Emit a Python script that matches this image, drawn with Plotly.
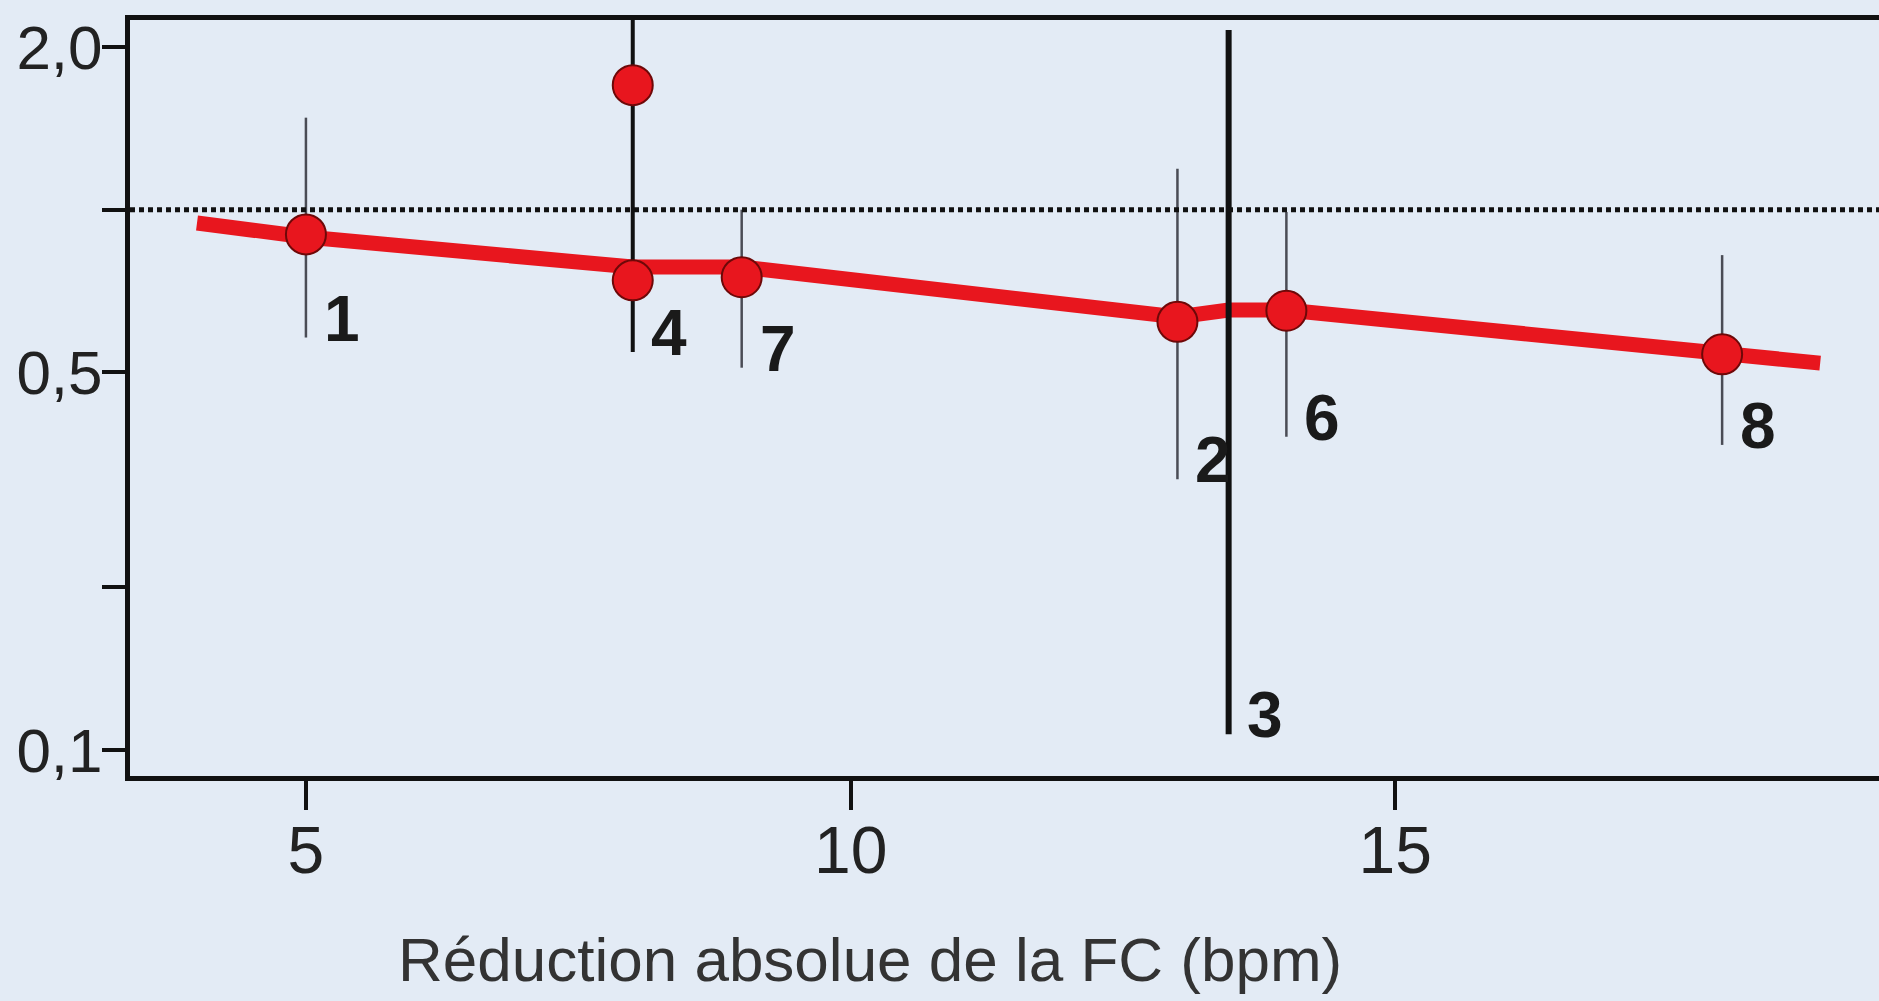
import math
import plotly.graph_objects as go

# ---------------- data ----------------
trial_ids = ["1", "2", "3", "4", "6", "7", "8"]
reduction_fc = [5.0, 13.0, 13.47, 8.0, 14.0, 9.0, 18.0]
rr = [0.90, 0.62, None, 0.74, 0.65, 0.75, 0.54]
ci_low = [0.58, 0.317, 0.107, 0.545, 0.38, 0.51, 0.367]
ci_high = [1.48, 1.19, 2.15, 2.4, 0.99, 1.0, 0.824]

# second estimate drawn on the trial-4 bar
extra_x = [8.0]
extra_rr = [1.70]

# red regression line
trend_x = [4.0, 5.0, 8.0, 9.0, 13.0, 13.47, 14.0, 18.0, 18.9]
trend_rr = [0.945, 0.890, 0.783, 0.783, 0.633, 0.652, 0.652, 0.543, 0.520]

ref_rr = 1.0
x_ticks = [5, 10, 15]
y_tickvals = [2.0, 1.0, 0.5, 0.2, 0.1]
y_ticktext = ["2,0", "", "0,5", "", "0,1"]
x_title = "Réduction absolue de la FC (bpm)"

# ---------------- styles ----------------
BG = "#E3EBF5"
RED = "rgb(232,22,30)"
bar_style = {
    "3": dict(color="#111111", width=6),
    "4": dict(color="#111111", width=4),
}
thin_bar = dict(color="#4a4c55", width=2.5)
FONT = "Liberation Sans, Arial, Helvetica, sans-serif"

fig = go.Figure()

# reference line at RR = 1
fig.add_shape(type="line", xref="paper", x0=0, x1=1, yref="y", y0=ref_rr, y1=ref_rr,
              line=dict(color="#111111", width=5, dash="5px,4px"), layer="above")

# regression line
fig.add_trace(go.Scatter(x=trend_x, y=trend_rr, mode="lines",
                         line=dict(color=RED, width=15), hoverinfo="skip"))

# confidence intervals
for tid, xv, lo, hi in zip(trial_ids, reduction_fc, ci_low, ci_high):
    st = bar_style.get(tid, thin_bar)
    fig.add_trace(go.Scatter(x=[xv, xv], y=[lo, hi], mode="lines",
                             line=dict(color=st["color"], width=st["width"]),
                             hoverinfo="skip"))

# point estimates
px = [xv for xv, r in zip(reduction_fc, rr) if r is not None] + extra_x
py = [r for r in rr if r is not None] + extra_rr
fig.add_trace(go.Scatter(x=px, y=py, mode="markers",
                         marker=dict(size=40, color=RED,
                                     line=dict(color="rgb(110,8,8)", width=2)),
                         hoverinfo="skip"))

# trial labels (annotation y on a log axis is given in log10 units)
for tid, xv, lo in zip(trial_ids, reduction_fc, ci_low):
    fig.add_annotation(x=xv, y=math.log10(lo), text="<b>%s</b>" % tid, showarrow=False,
                       xanchor="left", yanchor="bottom", xshift=16, yshift=-19,
                       font=dict(family=FONT, size=64, color="#1a1a1a"))

# x-axis title (placed as in the original, left of the plot centre)
fig.add_annotation(xref="paper", yref="paper", x=0.423, y=-0.243,
                   xanchor="center", yanchor="middle", showarrow=False,
                   text=x_title, font=dict(family=FONT, size=62, color="#333333"))

fig.update_layout(
    width=1879, height=1001,
    margin=dict(l=130, r=0, t=20, b=225),
    paper_bgcolor=BG, plot_bgcolor=BG,
    showlegend=False,
    font=dict(family=FONT, color="#222222"),
)
fig.update_xaxes(
    range=[3.385, 19.44], tickvals=x_ticks, ticktext=[str(t) for t in x_ticks],
    showgrid=False, zeroline=False, automargin=False,
    showline=True, linecolor="#111111", linewidth=5, mirror=True,
    ticks="outside", ticklen=29, tickwidth=4, tickcolor="#111111",
    ticklabelstandoff=-16,
    tickfont=dict(family=FONT, size=66, color="#222222"),
)
fig.update_yaxes(
    type="log", range=[-1.048, 0.351], tickvals=y_tickvals, ticktext=y_ticktext,
    showgrid=False, zeroline=False, automargin=False,
    showline=True, linecolor="#111111", linewidth=5, mirror=False,
    ticks="outside", ticklen=23, tickwidth=4, tickcolor="#111111",
    ticklabelstandoff=-13,
    tickfont=dict(family=FONT, size=62, color="#222222"),
)

fig.write_html(
    "out.html",
    config={"displayModeBar": False},
    post_script="document.body.style.margin='0';document.body.style.overflow='hidden';"
                "document.body.style.background='" + BG + "';",
)
